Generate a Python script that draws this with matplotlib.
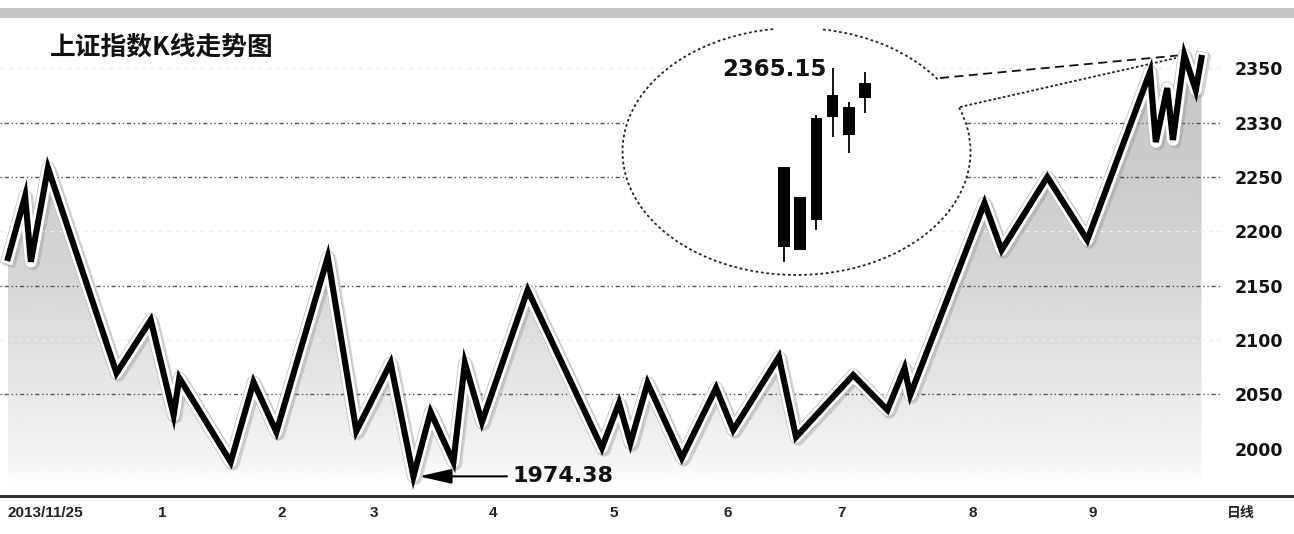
import numpy as np
import matplotlib
matplotlib.use('Agg')
import matplotlib.pyplot as plt
import matplotlib.patheffects as pe
from matplotlib.patches import Ellipse, Arc, Polygon, Rectangle
from matplotlib.transforms import IdentityTransform

# turning points of the daily index line (trading-day index from 2013/11/25)
days = [0, 3, 4, 7, 19, 25, 29, 30, 39, 43, 47, 56, 61, 67, 71, 74, 78, 80, 83, 91,
        104, 107, 109, 112, 118, 124, 127, 135, 138, 148, 154, 157, 158, 171, 174,
        182, 189, 200, 201, 203, 204, 206, 208, 209]
closes = [2175.4, 2232.5, 2172.0, 2258.3, 2069.5, 2118.3, 2030.8, 2064.9, 1987.6,
          2061.2, 2015.2, 2176.3, 2016.1, 2078.7, 1974.38, 2033.6, 1987.6, 2078.7,
          2024.4, 2145.9, 2000.5, 2041.9, 2005.1, 2060.3, 1991.3, 2055.7, 2017.0,
          2084.3, 2010.6, 2067.7, 2035.5, 2074.1, 2049.3, 2226.1, 2182.8, 2250.0,
          2192.0, 2346.8, 2282.2, 2331.9, 2284.1, 2362.3, 2330.0, 2359.6]
low_point = (71, 1974.38)

# month starts on the x axis
xtick_days = [0, 27, 48, 64, 85, 106, 126, 146, 169, 190, 215.8]
xtick_labels = ['2013/11/25', '1', '2', '3', '4', '5', '6', '7', '8', '9', '日线']

ytick_values = [2000, 2050, 2100, 2150, 2200, 2250, 2300, 2350]
ytick_labels = ['2000', '2050', '2100', '2150', '2200', '2250', '2330', '2350']
grid_strong = [2050, 2150, 2250, 2300]
grid_faint = [2100, 2200, 2350]

# last six daily candles shown in the bubble
k_open = [2275.6, 2274.2, 2289.2, 2340.7, 2345.7, 2350.2]
k_close = [2315.6, 2300.7, 2340.2, 2351.7, 2331.7, 2357.7]
k_high = [2315.6, 2300.7, 2341.7, 2365.15, 2348.2, 2363.2]
k_low = [2268.2, 2274.2, 2284.2, 2330.7, 2322.7, 2342.7]

W, H = 1294, 534
fig = plt.figure(figsize=(W / 100, H / 100), dpi=100)
fig.patch.set_facecolor('white')

# grey band across the top
fig.patches.append(Rectangle((0, 1 - 18 / H), 1, 10 / H, transform=fig.transFigure,
                             facecolor='#c6c6c6', edgecolor='none'))

ax = fig.add_axes([0, (H - 496) / H, 1, (496 - 18) / H])
ax.set_xlim(-1.4, 225.2)
ax.set_ylim(1956.3, 2396.4)
ax.set_facecolor('none')
for s in ['top', 'left', 'right']:
    ax.spines[s].set_visible(False)
ax.spines['bottom'].set_color('#333333')
ax.spines['bottom'].set_linewidth(2.2)

# gradient fill under the line
poly = ax.fill_between(days, closes, 1956.3, facecolor='none', edgecolor='none')
levels = np.linspace(2370, 1956.3, 300)
shade = np.interp(levels, [1956.3, 1968, 1990, 2050, 2150, 2250, 2370],
                  [1.0, 0.99, 0.96, 0.91, 0.84, 0.80, 0.78])
img = ax.imshow(shade[:, None], cmap='gray', vmin=0, vmax=1, aspect='auto',
                extent=(days[0], days[-1], 1956.3, 2370), zorder=1)
img.set_clip_path(poly.get_paths()[0], transform=ax.transData)

ax.hlines(grid_strong, -1.4, 212.3, colors='#555555', lw=1.0,
          linestyles=[(0, (1, 2, 3, 2, 1, 2))], zorder=2)
ax.hlines(grid_faint, -1.4, 212.3, colors='#eeeeee', lw=1.0,
          linestyles=[(0, (3, 3))], zorder=2)

# speech bubble (pixel coordinates)
ident = IdentityTransform()
cx, cy = 796.5, H - 151.5
ax.add_patch(Ellipse((cx, cy), 348, 247, transform=ident, facecolor='white',
                     edgecolor='none', zorder=3))
ax.add_patch(Polygon([(935, H - 80), (1183, H - 55), (962, H - 108), (930, H - 100)],
                     closed=True, transform=ident, facecolor='white', edgecolor='none', zorder=3))
for t1, t2 in [(100.8, 360), (0, 15.2), (27.1, 77.9)]:
    ax.add_patch(Arc((cx, cy), 348, 247, theta1=t1, theta2=t2, transform=ident,
                     color='#222222', lw=1.3, linestyle=(0, (1.5, 1.5)), zorder=3.5))
ax.plot([940, 1183], [H - 78, H - 55], transform=ident, color='#111111', lw=1.3,
        linestyle=(0, (5, 3)), zorder=3.5)
ax.plot([960, 1176], [H - 107, H - 58], transform=ident, color='#222222', lw=1.3,
        linestyle=(0, (1.5, 1.2)), zorder=3.5)

# main index line with white halo and soft shadow
ax.plot(days, closes, color='black', lw=4.4, solid_joinstyle='miter', zorder=4,
        path_effects=[pe.SimpleLineShadow(offset=(1.5, -1.5), shadow_color='#888888',
                                          alpha=0.35, linewidth=9.5, joinstyle='round'),
                      pe.Stroke(linewidth=9.4, foreground='#bbbbbb', joinstyle='round'),
                      pe.Stroke(linewidth=8.4, foreground='white', joinstyle='round'),
                      pe.Normal()])

ax.annotate(f'{low_point[1]:.2f}', xy=low_point, xytext=(99, 0), textcoords='offset pixels',
            ha='left', va='center', fontsize=16, fontweight='bold', color='#111111',
            arrowprops=dict(arrowstyle='-|>,head_length=2.0,head_width=0.45',
                            mutation_scale=10, color='black', lw=1.5,
                            shrinkA=2, shrinkB=4), zorder=5)

# y labels inside the right edge
ax.yaxis.tick_right()
ax.set_yticks(ytick_values, ytick_labels)
ax.tick_params(axis='y', length=0, pad=-42.5, labelsize=12.5)
for lab in ax.get_yticklabels():
    lab.set_fontweight('bold')
    lab.set_color('#111111')

ax.set_xticks(xtick_days, xtick_labels)
ax.tick_params(axis='x', length=0, pad=7)
for i, lab in enumerate(ax.get_xticklabels()):
    if i == len(xtick_labels) - 1:
        lab.set_family(['Noto Sans CJK SC', 'DejaVu Sans'])
        lab.set_fontsize(10)
        lab.set_fontweight('bold')
    else:
        lab.set_family(['Liberation Sans', 'DejaVu Sans'])
        lab.set_fontsize(11)
        lab.set_fontweight('bold')
    lab.set_color('#222222')
ax.get_xticklabels()[0].set_horizontalalignment('left')

# candles inside the bubble
kax = fig.add_axes([770 / W, (H - 280) / H, 110 / W, 240 / H], zorder=6)
kax.set_xlim(-0.86, 5.93)
kax.set_ylim(2259.15, 2379.15)
kax.axis('off')
kx = np.arange(len(k_open))
kax.vlines(kx, k_low, k_high, color='black', lw=1.3)
kax.bar(kx, np.abs(np.array(k_close) - np.array(k_open)),
        bottom=np.minimum(k_open, k_close), width=0.72, color='black')
top = int(np.argmax(k_high))
kax.annotate(f'{k_high[top]:.2f}', xy=(top, k_high[top]), xytext=(-6, -1),
             textcoords='offset pixels', ha='right', va='center', fontsize=16.5,
             fontweight='bold', color='#111111')

fig.text(50 / W, 1 - 47 / H, '上证指数K线走势图', ha='left', va='center', fontsize=18.5,
         fontweight='bold', family=['Noto Sans CJK SC', 'DejaVu Sans'], color='#111111')

fig.savefig('out.png', dpi=100)
